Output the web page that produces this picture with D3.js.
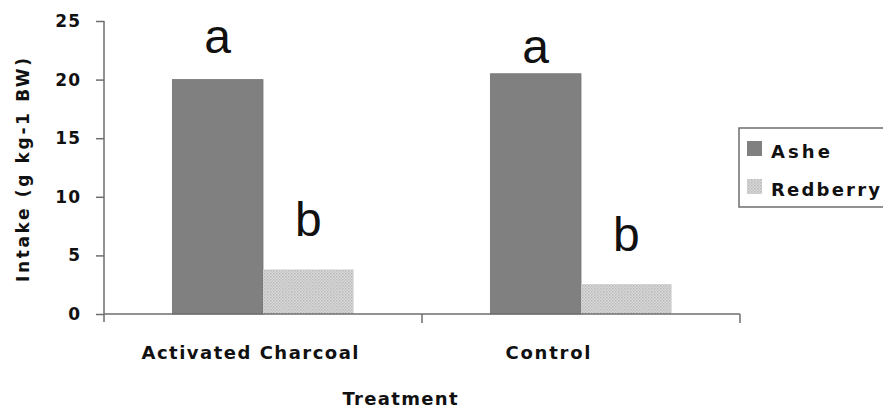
<!DOCTYPE html>
<html>
<head>
<meta charset="utf-8">
<script src="https://cdn.jsdelivr.net/npm/d3@7"></script>
<style>
  body { margin: 0; background: #fff; }
  text { font-family: "Liberation Sans", Arial, sans-serif; fill: #111; }
</style>
</head>
<body>
<script>
// values
const categories = ["Activated Charcoal", "Control"];
const series = ["Ashe", "Redberry"];
const asheIntake = [20.0, 20.5];
const redberryIntake = [3.8, 2.55];
const sigLetters = [["a", "b"], ["a", "b"]];
const yTicks = [0, 5, 10, 15, 20, 25];

function init() {
  const svg = d3.select("body").append("svg")
    .attr("width", 883)
    .attr("height", 411);

  // fine dotted fill for redberry
  const pat = svg.append("defs").append("pattern")
    .attr("id", "dots")
    .attr("width", 3)
    .attr("height", 3)
    .attr("patternUnits", "userSpaceOnUse");
  pat.append("rect").attr("width", 3).attr("height", 3).attr("fill", "#dadada");
  pat.append("rect").attr("width", 1.5).attr("height", 1.5).attr("fill", "#b9b9b9");
  pat.append("rect").attr("x", 1.5).attr("y", 1.5).attr("width", 1.5).attr("height", 1.5).attr("fill", "#c4c4c4");

  const x0 = d3.scaleBand().domain(categories).range([104, 740]);
  const x1 = d3.scaleBand().domain(series)
    .range([x0.bandwidth() * 0.215, x0.bandwidth() * 0.785]);
  const y = d3.scaleLinear().domain([0, 25]).range([314, 21]);

  const fills = { Ashe: "#808080", Redberry: "url(#dots)" };
  const values = { Ashe: asheIntake, Redberry: redberryIntake };
  // gap between bar top and letter baseline (px)
  const gaps = [[27, 33], [11, 33]];

  categories.forEach((cat, i) => {
    series.forEach((s, j) => {
      const v = values[s][i];
      svg.append("rect")
        .attr("x", x0(cat) + x1(s))
        .attr("y", y(v))
        .attr("width", x1.bandwidth())
        .attr("height", y(0) - y(v))
        .attr("fill", fills[s])
        .attr("stroke", s === "Ashe" ? "#747474" : "none")
        .attr("stroke-width", 0.8);

      svg.append("text")
        .attr("x", x0(cat) + x1(s) + x1.bandwidth() / 2)
        .attr("y", y(v) - gaps[i][j])
        .attr("text-anchor", "middle")
        .style("font-size", "48px")
        .text(sigLetters[i][j]);
    });
  });

  // y axis
  const yAxis = svg.append("g")
    .attr("transform", "translate(104,0)")
    .call(d3.axisLeft(y).tickValues(yTicks).tickSize(8).tickPadding(15));
  yAxis.selectAll("line, path").attr("stroke", "#6e6e6e").attr("stroke-width", 1.5);
  yAxis.select(".domain").attr("d", "M0,21V322");
  yAxis.selectAll("text")
    .style("font-family", "'DejaVu Sans', sans-serif")
    .style("font-size", "17px")
    .style("font-weight", "bold")
    .style("letter-spacing", "1px")
    .attr("fill", "#222");

  // x axis with ticks between categories
  const xAxis = svg.append("g")
    .attr("transform", "translate(0,314)");
  xAxis.append("line")
    .attr("x1", 104).attr("x2", 740)
    .attr("stroke", "#6e6e6e").attr("stroke-width", 1.5);
  const edges = categories.map(c => x0(c)).concat([x0.range()[1]]);
  xAxis.selectAll(".tk").data(edges.slice(1)).join("line")
    .attr("x1", d => d).attr("x2", d => d)
    .attr("y1", 0).attr("y2", 9)
    .attr("stroke", "#6e6e6e").attr("stroke-width", 1.5);

  const boldText = sel => sel
    .attr("lengthAdjust", "spacing")
    .style("font-family", "'DejaVu Sans', sans-serif")
    .style("font-weight", "bold");

  const catWidths = { "Activated Charcoal": 217, "Control": 85 };
  const catShift = { "Activated Charcoal": -13, "Control": -33 };
  svg.selectAll(".cat").data(categories).join("text")
    .attr("x", d => x0(d) + x0.bandwidth() / 2 + catShift[d])
    .attr("y", 359)
    .attr("text-anchor", "middle")
    .attr("textLength", d => catWidths[d])
    .call(boldText)
    .style("font-size", "18px")
    .text(d => d);

  svg.append("text")
    .attr("x", 400)
    .attr("y", 405)
    .attr("text-anchor", "middle")
    .attr("textLength", 115)
    .call(boldText)
    .style("font-size", "18px")
    .text("Treatment");

  svg.append("text")
    .attr("transform", "translate(29,170) rotate(-90)")
    .attr("text-anchor", "middle")
    .attr("textLength", 224)
    .call(boldText)
    .style("font-size", "17px")
    .text("Intake (g kg-1 BW)");

  // legend
  const legend = svg.append("g").attr("transform", "translate(739,128)");
  legend.append("rect")
    .attr("width", 170).attr("height", 79)
    .attr("fill", "#fff")
    .attr("stroke", "#6e6e6e").attr("stroke-width", 1.5);
  const legWidths = { Ashe: 59, Redberry: 109 };
  series.forEach((s, j) => {
    legend.append("rect")
      .attr("x", 8).attr("y", 13 + j * 38)
      .attr("width", 15).attr("height", 15)
      .attr("fill", fills[s]);
    legend.append("text")
      .attr("x", 32).attr("y", 30 + j * 38)
      .attr("textLength", legWidths[s])
      .call(boldText)
      .style("font-size", "18px")
      .text(s);
  });
}

init();
</script>
</body>
</html>
